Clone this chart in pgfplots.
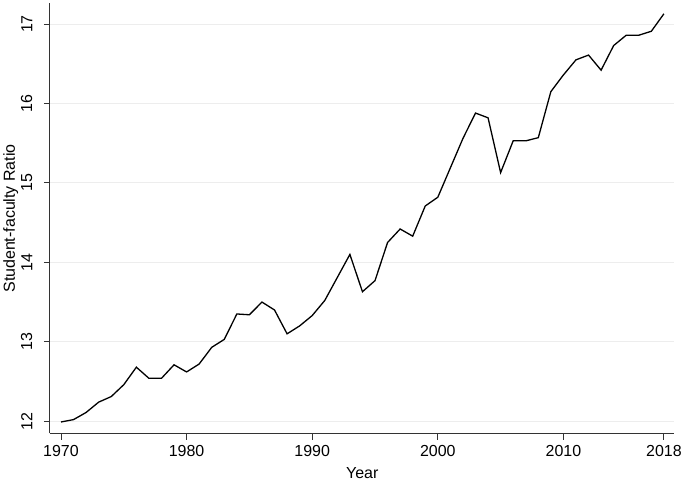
\documentclass[border={0pt 0pt 0pt 3bp}]{standalone}
\usepackage{fontspec}
\setmainfont{Liberation Sans}
\usepackage{pgfplots}
\pgfplotsset{compat=1.18}
\begin{document}
\begin{tikzpicture}[x=1bp,y=1bp]
\begin{axis}[
  scale only axis,
  width=623bp, height=429bp,
  xmin=1969.12, xmax=2018.84,
  ymin=11.845, ymax=17.26,
  axis x line*=bottom, axis y line*=left,
  axis line style={black!80, line width=0.9bp},
  xtick={1970,1980,1990,2000,2010,2018},
  ytick={12,13,14,15,16,17},
  tick align=outside, major tick length=6bp,
  tick style={black!80, line width=0.9bp},
  /pgf/number format/1000 sep={},
  /pgf/number format/assume math mode=true,
  ticklabel style={font=\fontsize{16}{19}\selectfont},
  xticklabel style={yshift=-2bp},
  yticklabel style={rotate=90, anchor=south},
  yticklabel shift=8bp,
  label style={font=\fontsize{16}{19}\selectfont},
  xlabel={Year}, ylabel={Student-faculty Ratio},
  xlabel style={yshift=-4bp},
  ylabel style={yshift=-4bp},
  ymajorgrids, grid style={black!7, line width=1bp},
  clip=false,
]
\addplot[black, line width=1.3bp, line join=miter] coordinates {
(1970,11.99) (1971,12.02) (1972,12.11) (1973,12.24) (1974,12.31)
(1975,12.46) (1976,12.68) (1977,12.54) (1978,12.54) (1979,12.71)
(1980,12.62) (1981,12.72) (1982,12.93) (1983,13.03) (1984,13.35)
(1985,13.34) (1986,13.50) (1987,13.40) (1988,13.10) (1989,13.20)
(1990,13.33) (1991,13.52) (1992,13.81) (1993,14.10) (1994,13.63)
(1995,13.77) (1996,14.25) (1997,14.42) (1998,14.33) (1999,14.71)
(2000,14.82) (2001,15.19) (2002,15.56) (2003,15.88) (2004,15.82)
(2005,15.13) (2006,15.53) (2007,15.53) (2008,15.57) (2009,16.15)
(2010,16.36) (2011,16.55) (2012,16.61) (2013,16.42) (2014,16.73)
(2015,16.86) (2016,16.86) (2017,16.91) (2018,17.13)
};
\end{axis}
\end{tikzpicture}
\end{document}
